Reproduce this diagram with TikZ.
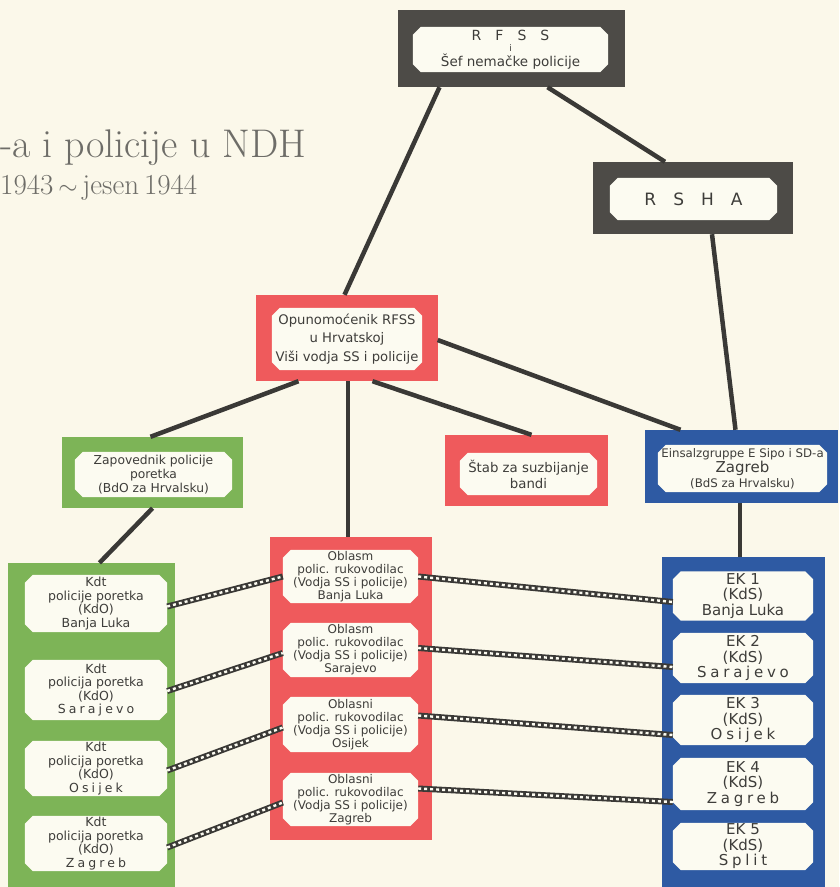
\documentclass[tikz,border=0pt]{standalone}
\usepackage{fontspec}
\setsansfont{DejaVu Sans}
\definecolor{bg}{HTML}{FBF8EA}
\definecolor{boxgray}{HTML}{4D4B47}
\definecolor{boxred}{HTML}{EF5A5C}
\definecolor{boxgreen}{HTML}{7DB457}
\definecolor{boxblue}{HTML}{2E5AA3}
\definecolor{innerc}{HTML}{FCFBF1}
\definecolor{ink}{HTML}{3E3D3A}
\definecolor{linec}{HTML}{3A3936}
\definecolor{titlegray}{HTML}{6E6D68}
\newcommand{\lsp}[1]{{\addfontfeature{LetterSpace=25}#1}}
% name, x, y, width, height, text style, text
\newcommand{\octbox}[7]{%
  \node[innerrect, minimum width=#4pt, minimum height=#5pt] (#1) at (#2,#3) {};
  \fill[innerc] ([xshift=8pt]#1.north west) -- ([xshift=-8pt]#1.north east) -- ([yshift=-8pt]#1.north east)
     -- ([yshift=8pt]#1.south east) -- ([xshift=-8pt]#1.south east) -- ([xshift=8pt]#1.south west)
     -- ([yshift=8pt]#1.south west) -- ([yshift=-8pt]#1.north west) -- cycle;
  \node[#6] (#1-t) at (#1) {#7};
}
\tikzset{
  outerbox/.style={rectangle, draw=none, inner sep=0pt},
  innerrect/.style={rectangle, draw=none, inner sep=0pt},
  lbl/.style={align=center, text=ink, inner sep=0pt},
  conn/.style={draw=linec, line width=4.5pt},
  rope/.style={draw=linec, line width=6pt, postaction={draw=innerc, line width=2.4pt, dash pattern=on 3pt off 3pt}},
  gtext/.style={lbl, font=\sffamily\fontsize{12.5}{13.5}\selectfont},
  rtext/.style={lbl, font=\sffamily\fontsize{12}{13}\selectfont},
  btext/.style={lbl, font=\sffamily\fontsize{15}{15.5}\selectfont},
}
\begin{document}
\begin{tikzpicture}[x=1pt,y=-1pt]
\useasboundingbox (0,0) rectangle (839,887);
\fill[bg] (0,0) rectangle (839,887);
\clip (0,0) rectangle (839,887);

% title
\node[anchor=base west, inner sep=0pt, text=titlegray, font=\fontsize{40}{40}\selectfont] (title1) at (0,157) {-a i policije u NDH};
\node[anchor=base west, inner sep=0pt, text=titlegray, font=\fontsize{29}{29}\selectfont] (title2) at (0,194) {1943\,$\sim$\,jesen\,1944};

% outer boxes
\node[outerbox, fill=boxgray, minimum width=227pt, minimum height=77pt] (rfss) at (511.5,48.5) {};
\node[outerbox, fill=boxgray, minimum width=200pt, minimum height=72pt] (rsha) at (693,198) {};
\node[outerbox, fill=boxred, minimum width=182pt, minimum height=86pt] (opun) at (346.5,338) {};
\node[outerbox, fill=boxgreen, minimum width=181pt, minimum height=71pt] (zap) at (152.5,472.5) {};
\node[outerbox, fill=boxred, minimum width=163pt, minimum height=71pt] (stab) at (526.5,470.5) {};
\node[outerbox, fill=boxblue, minimum width=193pt, minimum height=73pt] (einsatz) at (741.5,466.5) {};
\node[outerbox, fill=boxgreen, minimum width=167pt, minimum height=340pt] (greencol) at (91.5,733) {};
\node[outerbox, fill=boxred, minimum width=162pt, minimum height=303pt] (redcol) at (351,688.5) {};
\node[outerbox, fill=boxblue, minimum width=163pt, minimum height=340pt] (bluecol) at (743.5,727) {};

% connectors
\draw[conn] ([xshift=-72pt]rfss.south) -- ([xshift=-2pt]opun.north);
\draw[conn] ([xshift=36pt]rfss.south) -- ([xshift=-28pt]rsha.north);
\draw[conn] ([xshift=19pt]rsha.south) -- ([xshift=-6pt]einsatz.north);
\draw[conn] ([xshift=-48pt]opun.south) -- ([xshift=-2pt]zap.north);
\draw[conn] ([xshift=1.5pt]opun.south) -- ([xshift=1.5pt]opun.south |- redcol.north);
\draw[conn] ([xshift=26pt]opun.south) -- ([xshift=5pt]stab.north);
\draw[conn] ([yshift=-2pt]opun.east) -- ([xshift=-61pt]einsatz.north);
\draw[conn] (zap.south) -- ([xshift=8pt]greencol.north);
\draw[conn] ([xshift=-1.5pt]einsatz.south) -- ([xshift=-1.5pt]einsatz.south |- bluecol.north);

% inner boxes top
\octbox{rfssin}{510.5}{49.5}{195}{45}{lbl, font=\sffamily\fontsize{13.5}{11}\selectfont}
  {{\fontsize{14}{12}\selectfont R\quad F\quad S\quad S}\\[0.5pt]{\fontsize{9}{8}\selectfont i}\\[1pt]Šef nemačke policije}
\octbox{rshain}{693.5}{199}{167}{42}{lbl, font=\sffamily\fontsize{17}{18}\selectfont}{R\quad S\quad H\quad A}
\octbox{opunin}{347}{339}{150}{62}{lbl, font=\sffamily\fontsize{13.2}{18.5}\selectfont}
  {Opunomoćenik RFSS\\u Hrvatskoj\\Viši vodja SS i policije}
\octbox{zapin}{153.5}{474.5}{157}{45}{lbl, font=\sffamily\fontsize{12.3}{14}\selectfont}
  {Zapovednik policije\\poretka\\(BdO za Hrvalsku)}
\octbox{stabin}{528.5}{474}{137}{42}{lbl, font=\sffamily\fontsize{13.3}{16}\selectfont}
  {Štab za suzbijanje\\bandi}
\octbox{einsatzin}{742.5}{468.5}{169}{47}{lbl, font=\sffamily\fontsize{11.8}{15}\selectfont}
  {Einsalzgruppe E Sipo i SD-a\\{\fontsize{15}{15}\selectfont Zagreb}\\(BdS za Hrvalsku)}

% inner boxes of the columns
\octbox{g1}{96}{603.5}{142}{57}{gtext}{Kdt\\policije poretka\\(KdO)\\Banja Luka}
\octbox{g2}{96}{690}{142}{60}{gtext}{Kdt\\policija poretka\\(KdO)\\\lsp{Sarajevo}}
\octbox{g3}{96}{768.5}{142}{55}{gtext}{Kdt\\policija poretka\\(KdO)\\\lsp{Osijek}}
\octbox{g4}{96}{843.5}{142}{55}{gtext}{Kdt\\policija poretka\\(KdO)\\\lsp{Zagreb}}

\octbox{r1}{350.5}{576.5}{135}{53}{rtext}{Oblasm\\polic. rukovodilac\\(Vodja SS i policije)\\Banja Luka}
\octbox{r2}{350.5}{650}{135}{54}{rtext}{Oblasm\\polic. rukovodilac\\(Vodja SS i policije)\\Sarajevo}
\octbox{r3}{350.5}{724.5}{135}{55}{rtext}{Oblasni\\polic. rukovodilac\\(Vodja SS i policije)\\Osijek}
\octbox{r4}{350.5}{799.5}{135}{53}{rtext}{Oblasni\\polic. rukovodilac\\(Vodja SS i policije)\\Zagreb}

\octbox{b1}{743}{596}{140}{49}{btext}{EK 1\\(KdS)\\Banja Luka}
\octbox{b2}{743}{658}{140}{50}{btext}{EK 2\\(KdS)\\\lsp{Sarajevo}}
\octbox{b3}{743}{720}{140}{50}{btext}{EK 3\\(KdS)\\\lsp{Osijek}}
\octbox{b4}{743}{784}{140}{52}{btext}{EK 4\\(KdS)\\\lsp{Zagreb}}
\octbox{b5}{743}{846.5}{140}{47}{btext}{EK 5\\(KdS)\\\lsp{Split}}

% rope connectors
\draw[rope] ([yshift=-3pt]g1.east) -- (r1.west);
\draw[rope] ([yshift=-1pt]g2.east) -- ([yshift=-3pt]r2.west);
\draw[rope] ([yshift=-2pt]g3.east) -- ([yshift=-3pt]r3.west);
\draw[rope] ([yshift=-4pt]g4.east) -- ([yshift=-3pt]r4.west);
\draw[rope] (r1.east) -- ([yshift=-6pt]b1.west);
\draw[rope] ([yshift=2pt]r2.east) -- ([yshift=-9pt]b2.west);
\draw[rope] ([yshift=9pt]r3.east) -- ([yshift=-15pt]b3.west);
\draw[rope] ([yshift=11pt]r4.east) -- ([yshift=-18pt]b4.west);
\end{tikzpicture}
\end{document}
